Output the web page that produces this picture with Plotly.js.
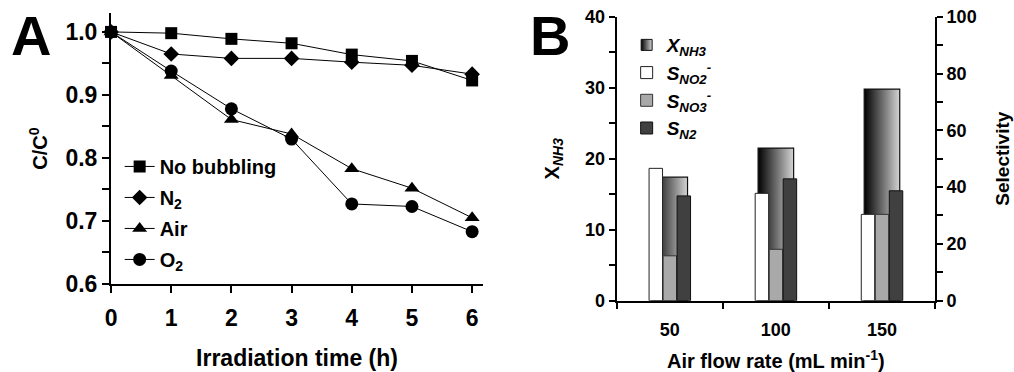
<!DOCTYPE html>
<html>
<head>
<meta charset="utf-8">
<script src="https://cdn.plot.ly/plotly-3.0.1.min.js"></script>
<style>html,body{margin:0;padding:0;background:#fff;}#chart{width:1014px;height:372px;}</style>
</head>
<body>
<div id="chart"></div>
<script>
// Panel A data
const times = [0, 1, 2, 3, 4, 5, 6];
const noBubbling = [1.0, 0.998, 0.989, 0.982, 0.964, 0.954, 0.923];
const n2 = [1.0, 0.965, 0.958, 0.958, 0.952, 0.947, 0.933];
const air = [1.0, 0.931, 0.861, 0.838, 0.783, 0.752, 0.705];
const o2 = [1.0, 0.938, 0.878, 0.830, 0.727, 0.723, 0.683];

// Panel B data
const airFlow = ['50', '100', '150'];
const xNH3 = [17.4, 21.5, 29.8];
const sNO2 = [46.6, 37.8, 30.4];
const sNO3 = [15.8, 18.1, 30.4];
const sN2 = [36.9, 42.9, 38.7];

const F = 'Liberation Sans, Arial, sans-serif';
const catIdx = airFlow.map((_, i) => i);

const traces = [];
function lineTrace(y, name, symbol, size, group) {
  return {
    x: times, y: y, name: name, type: 'scatter', mode: 'lines+markers',
    xaxis: 'x', yaxis: 'y', cliponaxis: false,
    line: {color: '#000', width: 1},
    marker: {symbol: symbol, size: size, color: '#000'},
    legend: 'legend', legendgroup: group
  };
}
traces.push(lineTrace(noBubbling, 'No bubbling', 'square', 12, 'a1'));
traces.push(lineTrace(n2, 'N<sub>2</sub>', 'diamond', 12, 'a2'));
traces.push(lineTrace(air, 'Air', 'triangle-up', 13, 'a3'));
traces.push(lineTrace(o2, 'O<sub>2</sub>', 'circle', 13, 'a4'));

// X_NH3 gradient bars (one filled shape per category so each has its own gradient)
const wideW = 0.335;
xNH3.forEach((v, i) => {
  const c = catIdx[i];
  traces.push({
    x: [c - wideW / 2, c - wideW / 2, c + wideW / 2, c + wideW / 2, c - wideW / 2],
    y: [0, v, v, 0, 0],
    type: 'scatter', mode: 'lines', fill: 'toself',
    xaxis: 'x2', yaxis: 'y2',
    line: {color: '#111', width: 1.2},
    fillgradient: {type: 'horizontal', colorscale: [[0, '#000000'], [1, '#d4d4d4']]},
    showlegend: false, hoverinfo: 'skip'
  });
});
// legend entry for X_NH3 (square with the same gradient)
traces.push({
  x: [null], y: [null], type: 'scatter', mode: 'markers',
  xaxis: 'x2', yaxis: 'y2',
  marker: {symbol: 'square', size: 11, color: '#000', gradient: {type: 'horizontal', color: '#d4d4d4'}, line: {color: '#111', width: 1}},
  name: '<b><i>X<sub>NH3</sub></i></b>', legend: 'legend2', legendgroup: 'b1'
});

const narrowW = 0.127;
function barTrace(y, name, color, offset, group, lineColor) {
  return {
    x: catIdx, y: y, type: 'bar', name: name,
    xaxis: 'x2', yaxis: 'y3', width: narrowW, offset: offset,
    marker: {color: color, line: {color: lineColor, width: 1}},
    legend: 'legend2', legendgroup: group
  };
}
traces.push(barTrace(sNO2, '<b><i>S<sub>NO2</sub><sup>-</sup></i></b>', '#ffffff', -0.195, 'b2', '#222'));
traces.push(barTrace(sNO3, '<b><i>S<sub>NO3</sub><sup>-</sup></i></b>', '#a9a9a9', -0.063, 'b3', '#333'));
traces.push(barTrace(sN2, '<b><i>S<sub>N2</sub></i></b>', '#404040', 0.069, 'b4', '#111'));

const tickFontA = {family: F, size: 23, color: '#000', weight: 'bold'};
const tickFontB = {family: F, size: 18, color: '#000', weight: 'bold'};

const layout = {
  width: 1014, height: 372,
  margin: {l: 0, r: 0, t: 0, b: 0},
  paper_bgcolor: '#fff', plot_bgcolor: 'rgba(0,0,0,0)',
  showlegend: true,
  barmode: 'overlay',
  font: {family: F, color: '#000'},
  xaxis: {
    domain: [0.1095, 0.4763], range: [0, 6.18],
    tickmode: 'array', tickvals: times, ticks: 'outside', ticklen: 7, tickwidth: 2, tickcolor: '#000',
    showline: true, linewidth: 2, linecolor: '#000', showgrid: false, zeroline: false,
    tickfont: tickFontA, ticklabelstandoff: 5,
    title: {text: '<b>Irradiation time (h)</b>', font: {family: F, size: 23, color: '#000'}, standoff: 20}
  },
  yaxis: {
    domain: [0.2366, 0.965], range: [0.6, 1.03],
    tickmode: 'array', tickvals: [0.6, 0.7, 0.8, 0.9, 1.0], ticktext: ['0.6', '0.7', '0.8', '0.9', '1.0'],
    ticks: 'outside', ticklen: 7, tickwidth: 2, tickcolor: '#000',
    minor: {dtick: 0.05, tick0: 0.6, ticks: 'outside', ticklen: 7, tickwidth: 2, tickcolor: '#000'},
    showline: true, linewidth: 2, linecolor: '#000', showgrid: false, zeroline: false,
    tickfont: tickFontA,
    title: {text: '<b>C/C<sup>0</sup></b>', font: {family: F, size: 20, color: '#000'}, standoff: 12}
  },
  xaxis2: {
    domain: [0.6082, 0.9221], range: [-0.5, 2.5], anchor: 'y2',
    tickmode: 'array', tickvals: catIdx, ticktext: airFlow, ticks: '',
    minor: {tick0: 0.5, dtick: 1, ticks: 'outside', ticklen: 6, tickwidth: 2, tickcolor: '#000'},
    showline: true, linewidth: 2, linecolor: '#000', showgrid: false, zeroline: false,
    tickfont: tickFontB, ticklabelstandoff: 12,
    title: {text: '<b>Air flow rate (mL min<sup>-1</sup>)</b>', font: {family: F, size: 20, color: '#000'}, standoff: 16}
  },
  yaxis2: {
    domain: [0.1917, 0.9551], range: [0, 40], anchor: 'x2',
    tickmode: 'array', tickvals: [0, 10, 20, 30, 40], ticks: 'outside', ticklen: 6, tickwidth: 2, tickcolor: '#000',
    minor: {dtick: 5, tick0: 0, ticks: 'outside', ticklen: 6, tickwidth: 2, tickcolor: '#000'},
    showline: true, linewidth: 2, linecolor: '#000', showgrid: false, zeroline: false,
    tickfont: tickFontB,
    title: {text: '<b>X<sub><i>NH3</i></sub></b>', font: {family: F, size: 20, color: '#000'}, standoff: 20}
  },
  yaxis3: {
    domain: [0.1917, 0.9551], range: [0, 100], overlaying: 'y2', side: 'right', anchor: 'x2',
    tickmode: 'linear', tick0: 0, dtick: 20, ticks: 'outside', ticklen: 6, tickwidth: 2, tickcolor: '#000',
    minor: {dtick: 10, tick0: 0, ticks: 'outside', ticklen: 6, tickwidth: 2, tickcolor: '#000'},
    showline: true, linewidth: 2, linecolor: '#000', showgrid: false, zeroline: false,
    tickfont: tickFontB,
    title: {text: '<b>Selectivity</b>', font: {family: F, size: 19, color: '#000'}, standoff: 20}
  },
  legend: {
    x: 0.118, y: 0.605, xanchor: 'left', yanchor: 'top',
    bgcolor: 'rgba(0,0,0,0)', borderwidth: 0,
    font: {family: F, size: 20, color: '#000', weight: 'bold'},
    itemwidth: 30, traceorder: 'grouped', tracegroupgap: 2
  },
  legend2: {
    x: 0.618, y: 0.93, xanchor: 'left', yanchor: 'top',
    bgcolor: 'rgba(0,0,0,0)', borderwidth: 0,
    font: {family: F, size: 19, color: '#000'},
    itemwidth: 30, traceorder: 'grouped', tracegroupgap: 0
  },
  annotations: [
    {text: '<b>A</b>', xref: 'paper', yref: 'paper', x: 31 / 1014, y: 1 - 35 / 372,
     xanchor: 'center', yanchor: 'middle', showarrow: false, font: {family: F, size: 56, color: '#000'}},
    {text: '<b>B</b>', xref: 'paper', yref: 'paper', x: 550 / 1014, y: 1 - 35 / 372,
     xanchor: 'center', yanchor: 'middle', showarrow: false, font: {family: F, size: 56, color: '#000'}}
  ]
};

Plotly.newPlot('chart', traces, layout, {displayModeBar: false, staticPlot: true});
</script>
</body>
</html>
